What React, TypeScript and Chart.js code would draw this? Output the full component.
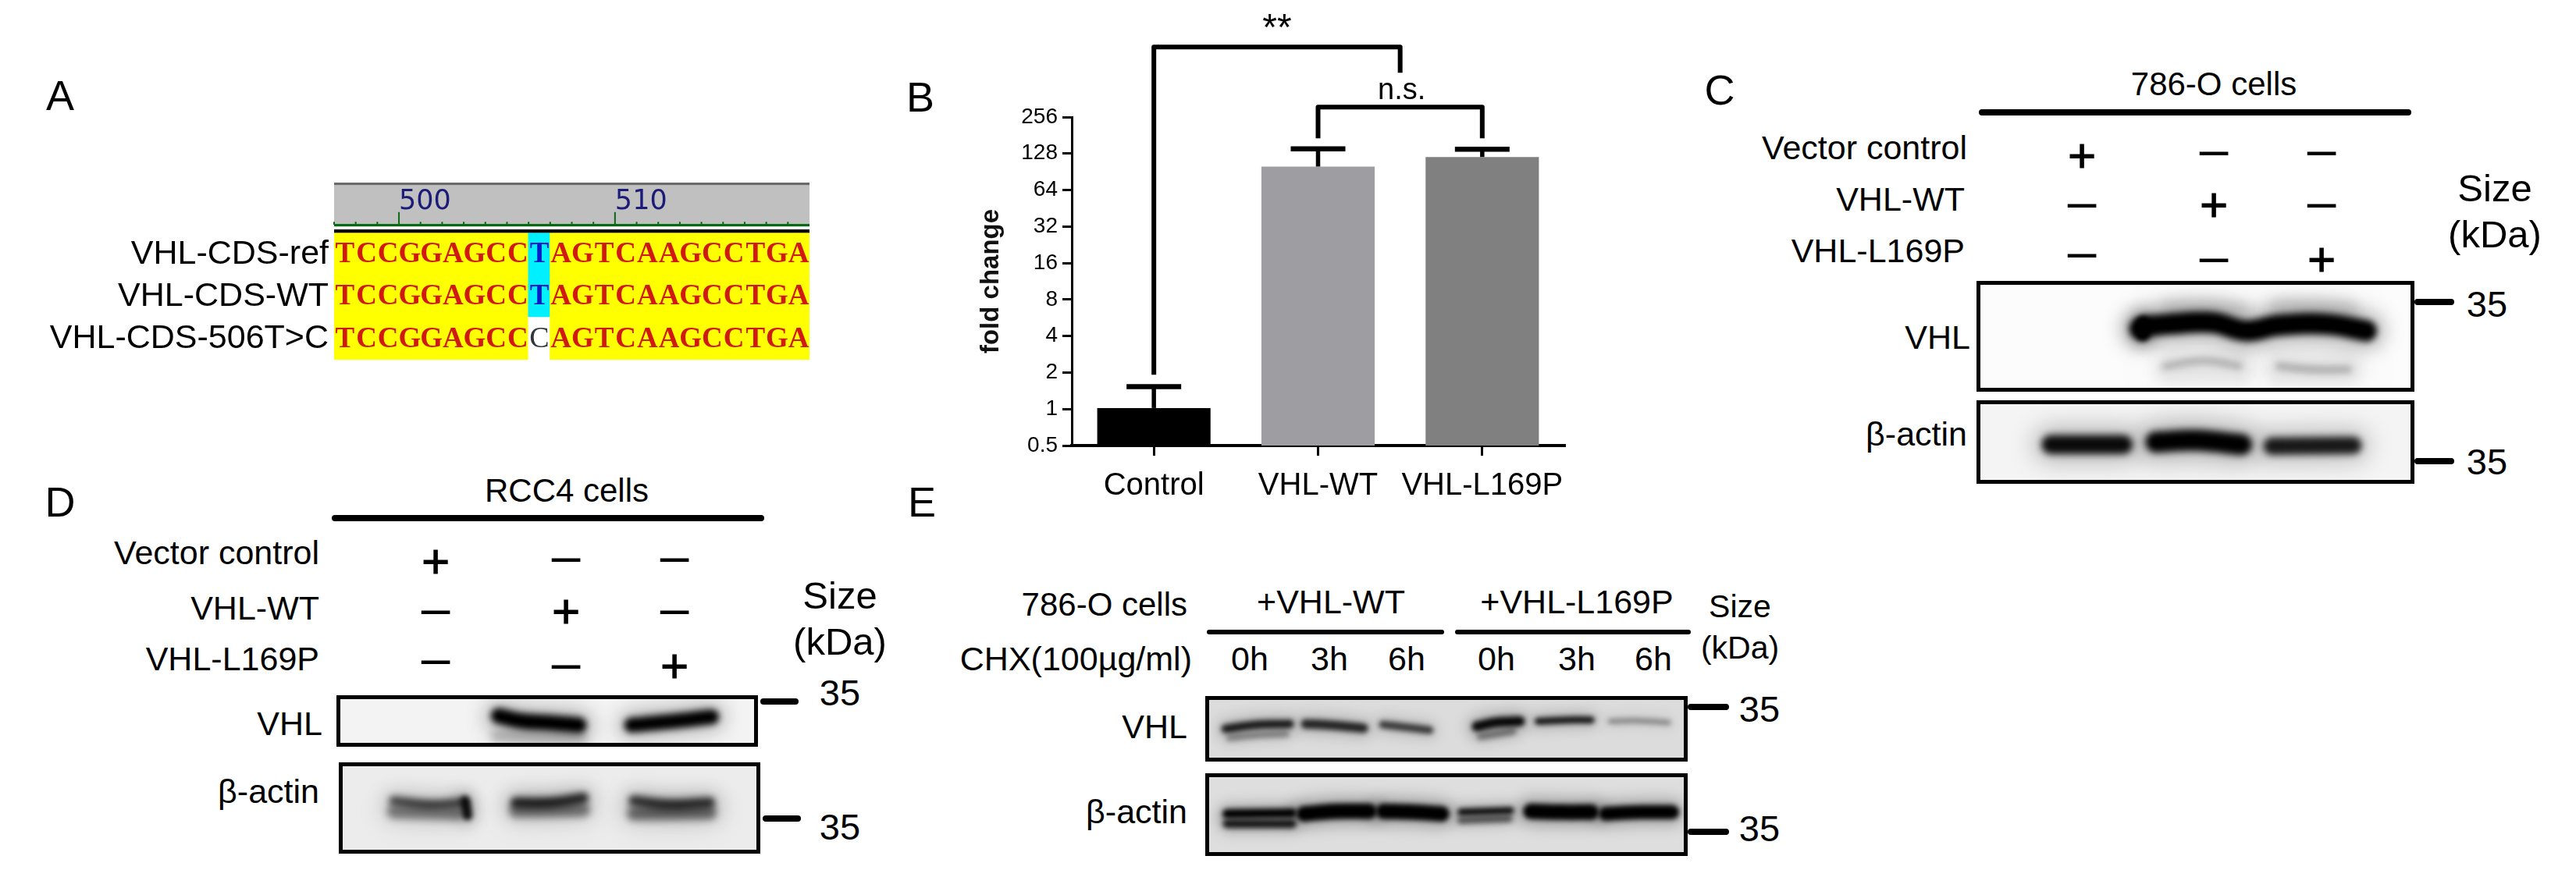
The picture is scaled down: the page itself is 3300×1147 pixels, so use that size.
import React, { useEffect, useRef } from "react";
import { Chart, registerables } from "chart.js";

Chart.register(...registerables);

// ---------- Panel B data ----------
const foldCategories = ["Control", "VHL-WT", "VHL-L169P"];
const foldMeans = [1.02, 100, 120];
const foldUpperError = [1.53, 140, 139];
const foldTicks = [0.5, 1, 2, 4, 8, 16, 32, 64, 128, 256];
const foldColours = ["#000000", "#9e9ea2", "#808080"];
const sigOuter = { from: 0, to: 1.5, level: 968, footFrom: 1.92, footTo: 594, text: "**" };
const sigInner = { from: 1, to: 2, level: 309, footFrom: 171, footTo: 171, text: "n.s." };

// ---------- Panel A data ----------
const seqPositions = Array.from("0123456789012345678901").map((_, i) => 497 + i);
const seqRef = "TCCGGAGCCTAGTCAAGCCTGA";
const seqWT = "TCCGGAGCCTAGTCAAGCCTGA";
const seqMut = "TCCGGAGCCCAGTCAAGCCTGA";
const seqNames = ["VHL-CDS-ref", "VHL-CDS-WT", "VHL-CDS-506T>C"];
const rulerLabels = [500, 510];

// ---------- Blot bands: [lane position %, height %] ----------
const cVhlMain = [[37.3, 43], [39, 41], [44, 39], [54, 37.6], [61.4, 45], [69, 40], [80, 39], [89, 45]];
const cVhlBlob = [[38, 38], [38, 48]];
const cVhlLow1 = [[43, 77], [52, 72], [60, 77]];
const cVhlLow2 = [[69, 77], [77, 80], [85, 80]];
const cVhlHaze1 = [[44, 80], [60, 80]];
const cVhlHaze2 = [[69, 80], [85, 80]];
const cVhlHaze3 = [[44, 26], [60, 26]];
const cVhlHaze4 = [[69, 24], [85, 26]];
const cActin1 = [[17, 53], [33.5, 53]];
const cActin2 = [[41, 50], [50, 48], [60.5, 53]];
const cActin3 = [[67.5, 55], [86, 54]];

const dVhl2 = [[38.5, 40], [44, 50], [50, 53], [57.5, 58]];
const dVhl3 = [[70, 58], [78, 52], [89, 42]];
const dVhlSmear = [[38, 80], [58, 82]];
const dActin1 = [[13, 42], [22, 46], [29, 44]];
const dActin1Spot = [[30, 42], [30.5, 58]];
const dActin2 = [[42, 44], [50, 44], [58, 39]];
const dActin3 = [[70, 42], [78, 46], [88, 44]];
const dSmear1 = [[13, 54], [28, 56]];
const dSmear2 = [[42, 53], [58, 52]];
const dSmear3 = [[70, 56], [88, 55]];

const eVhl1Up = [[4.2, 50], [10.5, 44], [17.5, 42.5]];
const eVhl1Low = [[5, 64], [10.5, 60], [16.8, 58]];
const eVhl2 = [[20.8, 42.5], [25.3, 44], [32.8, 49]];
const eVhl3 = [[36.8, 43.6], [41.5, 47.6], [46.5, 52]];
const eVhl4Up = [[56.3, 46.4], [60.1, 40.5], [65.2, 38.5]];
const eVhl4Low = [[57, 62], [63.8, 54]];
const eVhl5 = [[69, 38.5], [75, 36.5], [80, 36.5]];
const eVhl6 = [[84, 38.5], [89.9, 37.7], [96, 40.5]];
const eActin1Up = [[4.5, 49], [18, 48]];
const eActin1Low = [[4.5, 61], [18, 61]];
const eActin2 = [[20.5, 49], [27, 46], [34, 46]];
const eActin3 = [[37, 46], [43, 47], [49, 49]];
const eActin4Up = [[53, 47], [63.3, 45]];
const eActin4Low = [[53, 57], [63, 55]];
const eActin5 = [[67.5, 46], [74, 47], [80, 47]];
const eActin6 = [[83, 49], [90, 47], [96.8, 47]];

// ---------- Styling and layout ----------
const SANS = '"Liberation Sans", Arial, sans-serif';

type Pts = number[][];
const band = (pts: Pts, w: number, a: number, blur: number) => [
  { pts, w: w * 1.8, a: a * 0.28, blur: blur * 3 },
  { pts, w, a, blur },
];

const blotPlugin = {
  id: "blot",
  beforeDatasetDraw(chart: any, args: any) {
    const ds = chart.data.datasets[args.index];
    chart.ctx.save();
    chart.ctx.filter = `blur(${ds.blurPx}px)`;
  },
  afterDatasetDraw(chart: any) {
    chart.ctx.restore();
  },
};

function blotConfig(bg: string, edge: string, borderW: number, bands: any[]) {
  return {
    type: "line",
    data: {
      datasets: bands.flat().map((b: any) => ({
        data: b.pts.map(([x, y]: number[]) => ({ x, y })),
        borderColor: `rgba(0,0,0,${b.a})`,
        borderWidth: b.w,
        borderCapStyle: "round",
        tension: 0.4,
        pointRadius: 0,
        fill: false,
        blurPx: b.blur,
      })),
    },
    options: {
      responsive: false,
      animation: false,
      devicePixelRatio: 1,
      layout: { padding: 0 },
      plugins: { legend: { display: false }, tooltip: { enabled: false } },
      scales: {
        x: { type: "linear", min: 0, max: 100, display: false },
        y: { type: "linear", min: 0, max: 100, reverse: true, display: false },
      },
    },
    plugins: [
      {
        id: "blotBg",
        beforeDraw(chart: any) {
          const { ctx, width, height } = chart;
          ctx.save();
          ctx.fillStyle = edge;
          ctx.fillRect(0, 0, width, height);
          ctx.fillStyle = bg;
          ctx.fillRect(borderW, borderW, width - 2 * borderW, height - 2 * borderW);
          ctx.restore();
        },
        afterDraw(chart: any) {
          const { ctx, width, height } = chart;
          ctx.save();
          ctx.strokeStyle = "#000";
          ctx.lineWidth = borderW;
          ctx.strokeRect(borderW / 2, borderW / 2, width - borderW, height - borderW);
          ctx.restore();
        },
      },
      blotPlugin,
    ],
  };
}

function foldConfig() {
  return {
    type: "bar",
    data: {
      labels: foldCategories,
      datasets: [
        {
          data: foldMeans,
          backgroundColor: foldColours,
          barPercentage: 0.69,
          categoryPercentage: 1,
        },
      ],
    },
    options: {
      responsive: false,
      animation: false,
      devicePixelRatio: 1,
      layout: { padding: { top: 150, right: 46 } },
      plugins: { legend: { display: false }, tooltip: { enabled: false } },
      scales: {
        x: {
          type: "category",
          afterFit: (s: any) => { s.height = 89; },
          border: { color: "#000", width: 4 },
          grid: { offset: false, drawOnChartArea: false, color: "#000", lineWidth: 3, tickLength: 13 },
          ticks: { color: "#000", padding: 15, maxRotation: 0, minRotation: 0, autoSkip: false, font: { family: SANS, size: 40 } },
        },
        y: {
          type: "logarithmic",
          min: 0.5,
          max: 256,
          afterFit: (s: any) => { s.width = 223; },
          afterBuildTicks: (s: any) => { s.ticks = foldTicks.map((value) => ({ value })); },
          border: { color: "#000", width: 3 },
          grid: { drawOnChartArea: false, color: "#000", lineWidth: 3, tickLength: 12 },
          title: {
            display: true,
            text: "fold change",
            color: "#111",
            font: { family: SANS, size: 33, weight: "bold" },
            padding: { top: 100, bottom: 0 },
          },
          ticks: {
            color: "#000",
            padding: 6,
            font: { family: SANS, size: 28 },
            autoSkip: false,
            callback: (v: number) => String(v),
          },
        },
      },
    },
    plugins: [
      {
        id: "errorsAndBrackets",
        afterDatasetsDraw(chart: any) {
          const { ctx, scales } = chart;
          const { x, y } = scales;
          ctx.save();
          ctx.strokeStyle = "#000";
          foldMeans.forEach((m, i) => {
            const px = x.getPixelForValue(i);
            ctx.lineWidth = 5.5;
            ctx.beginPath();
            ctx.moveTo(px, y.getPixelForValue(m));
            ctx.lineTo(px, y.getPixelForValue(foldUpperError[i]));
            ctx.stroke();
            ctx.lineWidth = 6.5;
            ctx.beginPath();
            ctx.moveTo(px - 35, y.getPixelForValue(foldUpperError[i]));
            ctx.lineTo(px + 35, y.getPixelForValue(foldUpperError[i]));
            ctx.stroke();
          });
          ctx.lineWidth = 6;
          ctx.lineJoin = "round";
          ctx.fillStyle = "#000";
          ctx.textAlign = "center";
          ctx.textBaseline = "middle";
          [sigOuter, sigInner].forEach((b) => {
            const x0 = x.getPixelForValue(b.from);
            const x1 = x.getPixelForValue(b.to);
            const top = y.getPixelForValue(b.level);
            ctx.beginPath();
            ctx.moveTo(x0, y.getPixelForValue(b.footFrom));
            ctx.lineTo(x0, top);
            ctx.lineTo(x1, top);
            ctx.lineTo(x1, y.getPixelForValue(b.footTo));
            ctx.stroke();
            ctx.font = `${b === sigOuter ? 48 : 38}px ${SANS}`;
            ctx.fillText(b.text, (x0 + x1) / 2 + (b === sigOuter ? 0 : 2), top + (b === sigOuter ? -22 : -21));
          });
          ctx.restore();
        },
      },
    ],
  };
}

const rows2 = [seqMut, seqWT, seqRef];

function seqConfig() {
  const cellColour = (s: string) =>
    Array.from(s).map((c, i) => {
      if (c !== seqRef[i]) return "#ffffff";
      return i === 9 ? "#00f0ff" : "#ffff00";
    });
  return {
    type: "bar",
    data: {
      labels: seqPositions.map(String),
      datasets: rows2.map((s, r) => ({
        data: Array.from(s).map(() => [r, r + 1]),
        backgroundColor: cellColour(s),
        barPercentage: 1,
        categoryPercentage: 1,
        grouped: false,
        inflateAmount: 0.6,
      })),
    },
    options: {
      responsive: false,
      animation: false,
      devicePixelRatio: 1,
      layout: { padding: { top: 0, right: 63, bottom: 0 } },
      plugins: { legend: { display: false }, tooltip: { enabled: false } },
      scales: {
        x: { type: "category", display: false },
        y: {
          type: "linear",
          min: 0,
          max: 4.2,
          afterFit: (s: any) => {
            s.width = 428;
            s.paddingTop = 0;
            s.paddingBottom = 0;
          },
          afterBuildTicks: (s: any) => { s.ticks = [0.5, 1.5, 2.5].map((value) => ({ value })); },
          border: { display: false },
          grid: { display: false, drawTicks: false },
          ticks: {
            color: "#000",
            padding: 7,
            font: { family: SANS, size: 43 },
            autoSkip: false,
            callback: (v: number) => seqNames[2 - Math.floor(v)],
          },
        },
      },
    },
    plugins: [
      {
        id: "seqLetters",
        afterDatasetsDraw(chart: any) {
          const { ctx, scales, chartArea } = chart;
          const { x, y } = scales;
          const step = x.getPixelForValue(1) - x.getPixelForValue(0);
          const W = chartArea.right - chartArea.left;
          ctx.save();
          // ruler
          ctx.fillStyle = "#c0c0c0";
          ctx.fillRect(chartArea.left, y.getPixelForValue(4.14), W, y.getPixelForValue(3.2) - y.getPixelForValue(4.14));
          ctx.fillStyle = "#6a6a6a";
          ctx.fillRect(chartArea.left, y.getPixelForValue(4.2), W, y.getPixelForValue(4.14) - y.getPixelForValue(4.2));
          ctx.fillStyle = "#000";
          ctx.fillRect(chartArea.left, y.getPixelForValue(3.09), W, y.getPixelForValue(3.01) - y.getPixelForValue(3.09));
          ctx.fillStyle = "#0a6a14";
          ctx.fillRect(chartArea.left, y.getPixelForValue(3.22), W, y.getPixelForValue(3.16) - y.getPixelForValue(3.22));
          seqPositions.forEach((p, i) => {
            const edge = x.getPixelForValue(i) - step / 2;
            const major = rulerLabels.includes(p);
            const tip = y.getPixelForValue(major ? 3.5 : 3.27);
            ctx.fillRect(edge - 1, tip, 2, y.getPixelForValue(3.2) - tip);
            if (major) {
              ctx.save();
              ctx.fillStyle = "#1c1c78";
              ctx.font = `35px "DejaVu Sans", sans-serif`;
              ctx.textAlign = "left";
              ctx.textBaseline = "middle";
              ctx.fillText(String(p), edge, y.getPixelForValue(3.74));
              ctx.restore();
            }
          });
          // letters
          ctx.textAlign = "center";
          ctx.textBaseline = "middle";
          rows2.forEach((s, r) => {
            Array.from(s).forEach((c, i) => {
              const blue = i === 9 && c === "T";
              const plain = i === 9 && c !== "T";
              ctx.fillStyle = blue ? "#0a1ac8" : plain ? "#30363c" : "#d01a10";
              ctx.font = plain ? `38px "Liberation Serif", serif` : `bold 37px "Liberation Serif", serif`;
              ctx.fillText(c, x.getPixelForValue(i), y.getPixelForValue(r + 0.5) + 1);
            });
          });
          ctx.restore();
        },
      },
    ],
  };
}

const charts = [
  { key: "A", box: [0, 234, 1100, 227], make: seqConfig },
  { key: "B", box: [1150, 0, 900, 660], make: foldConfig },
  {
    key: "C1", box: [2532, 360, 561, 142],
    make: () => blotConfig("#fcfcfc", "#000", 5, [
      band(cVhlHaze1, 40, 0.06, 8),
      band(cVhlHaze2, 40, 0.06, 8),
      band(cVhlHaze3, 24, 0.12, 8),
      band(cVhlHaze4, 24, 0.12, 8),
      band(cVhlMain, 27, 1, 4),
      band(cVhlBlob, 18, 1, 3),
      band(cVhlLow1, 9, 0.22, 4),
      band(cVhlLow2, 9, 0.24, 4),
    ]),
  },
  {
    key: "C2", box: [2532, 513, 561, 107],
    make: () => blotConfig("#f4f4f4", "#000", 5, [
      band(cActin1, 24, 0.95, 5),
      band(cActin2, 27, 1, 5),
      band(cActin3, 22, 0.88, 5),
    ]),
  },
  {
    key: "D1", box: [431, 891, 540, 66],
    make: () => blotConfig("#f3f3f3", "#000", 5, [
      band(dVhlSmear, 16, 0.18, 5),
      band(dVhl2, 20, 1, 4),
      band(dVhl3, 19, 1, 4),
    ]),
  },
  {
    key: "D2", box: [434, 977, 540, 117],
    make: () => blotConfig("#ececec", "#000", 5, [
      band(dActin1, 12, 0.65, 4),
      band(dActin1Spot, 13, 0.9, 3),
      band(dActin2, 14, 0.8, 4),
      band(dActin3, 14, 0.75, 4),
      band(dSmear1, 18, 0.42, 5),
      band(dSmear2, 18, 0.45, 5),
      band(dSmear3, 18, 0.5, 5),
    ]),
  },
  {
    key: "E1", box: [1544, 892, 618, 84],
    make: () => blotConfig("#dcdcdc", "#000", 5, [
      band(eVhl1Up, 11, 0.85, 3),
      band(eVhl1Low, 8, 0.35, 3),
      band(eVhl2, 12, 0.8, 3),
      band(eVhl3, 10, 0.7, 3),
      band(eVhl4Up, 13, 0.95, 3),
      band(eVhl4Low, 9, 0.4, 3),
      band(eVhl5, 9, 0.9, 3),
      band(eVhl6, 7, 0.35, 3),
    ]),
  },
  {
    key: "E2", box: [1544, 991, 618, 106],
    make: () => blotConfig("#dedede", "#000", 5, [
      band(eActin1Up, 12, 1, 3),
      band(eActin1Low, 11, 0.85, 3),
      band(eActin2, 20, 1, 3),
      band(eActin3, 20, 1, 3),
      band(eActin4Up, 9, 0.95, 3),
      band(eActin4Low, 9, 0.55, 3),
      band(eActin5, 20, 1, 3),
      band(eActin6, 18, 1, 3),
    ]),
  },
];

// text: [string, x, y, size, anchor]
const texts: [string, number, number, number, string][] = [
  ["A", 77, 122, 54, "c"], ["B", 1179, 124, 54, "c"], ["C", 2203, 115, 54, "c"], ["D", 77, 643, 54, "c"], ["E", 1181, 643, 54, "c"],
  // C
  ["786-O cells", 2836, 108, 42, "c"],
  ["Vector control", 2520, 189, 43, "r"], ["VHL-WT", 2517, 255, 43, "r"], ["VHL-L169P", 2517, 321, 43, "r"],
  ["VHL", 2524, 432, 43, "r"], ["β-actin", 2520, 556, 43, "r"],
  ["Size", 3196, 241, 49, "c"], ["(kDa)", 3196, 300, 49, "c"],
  ["35", 3186, 389, 47, "c"], ["35", 3186, 591, 47, "c"],
  // D
  ["RCC4 cells", 726, 629, 42, "c"],
  ["Vector control", 409, 708, 43, "r"], ["VHL-WT", 409, 779, 43, "r"], ["VHL-L169P", 409, 844, 43, "r"],
  ["VHL", 413, 927, 43, "r"], ["β-actin", 409, 1014, 43, "r"],
  ["Size", 1076, 763, 49, "c"], ["(kDa)", 1076, 822, 49, "c"],
  ["35", 1076, 887, 47, "c"], ["35", 1076, 1059, 47, "c"],
  // E
  ["786-O cells", 1521, 775, 42, "r"], ["+VHL-WT", 1705, 771, 43, "c"], ["+VHL-L169P", 2020, 771, 43, "c"],
  ["CHX(100µg/ml)", 1527, 844, 43, "r"],
  ["0h", 1601, 844, 43, "c"], ["3h", 1703, 844, 43, "c"], ["6h", 1802, 844, 43, "c"],
  ["0h", 1917, 844, 43, "c"], ["3h", 2020, 844, 43, "c"], ["6h", 2118, 844, 43, "c"],
  ["Size", 2229, 777, 41, "c"], ["(kDa)", 2229, 830, 41, "c"],
  ["VHL", 1521, 931, 43, "r"], ["β-actin", 1521, 1040, 43, "r"],
  ["35", 2254, 908, 47, "c"], ["35", 2254, 1061, 47, "c"],
];

// sign grids: [sign, x, y]
const signs: [string, number, number][] = [
  ["+", 2667, 199], ["–", 2836, 195], ["–", 2974, 195],
  ["–", 2667, 262], ["+", 2836, 262], ["–", 2974, 262],
  ["–", 2667, 326], ["–", 2836, 332], ["+", 2974, 332],
  ["+", 558, 719], ["–", 725, 716], ["–", 864, 716],
  ["–", 558, 783], ["+", 725, 783], ["–", 864, 783],
  ["–", 558, 847], ["–", 725, 853], ["+", 864, 853],
];

// rules: [x0, x1, y, thickness]
const rules: [number, number, number, number][] = [
  [2535, 3089, 144, 8], [425, 979, 664, 8], [1546, 1850, 810, 6], [1864, 2166, 810, 6],
  [3093, 3144, 387, 8], [3093, 3144, 591, 8],
  [974, 1023, 899, 8], [977, 1026, 1049, 8],
  [2162, 2215, 906, 8], [2162, 2215, 1066, 8],
];

function ChartBox({ box, make }: { box: number[]; make: () => any }) {
  const ref = useRef<HTMLCanvasElement>(null);
  useEffect(() => {
    const chart = new Chart(ref.current as any, make());
    return () => chart.destroy();
  }, []);
  return (
    <canvas
      ref={ref}
      width={box[2]}
      height={box[3]}
      style={{ position: "absolute", left: box[0], top: box[1], width: box[2], height: box[3] }}
    />
  );
}

export default function App() {
  return (
    <div style={{ position: "absolute", left: 0, top: 0, width: 3300, height: 1147, background: "#fff", overflow: "hidden", fontFamily: SANS, color: "#000" }}>
      {charts.map((c) => (
        <ChartBox key={c.key} box={c.box} make={c.make} />
      ))}
      {rules.map((r, i) => (
        <div key={i} style={{ position: "absolute", left: r[0], top: r[2] - r[3] / 2, width: r[1] - r[0], height: r[3], background: "#000", borderRadius: r[3] / 2 }} />
      ))}
      {texts.map((t, i) => (
        <div key={i} style={{ position: "absolute", left: t[1], top: t[2], fontSize: t[3], lineHeight: 1, whiteSpace: "nowrap", transform: t[4] === "r" ? "translate(-100%,-50%)" : "translate(-50%,-50%)" }}>
          {t[0]}
        </div>
      ))}
      {signs.map((s, i) => (
        <div key={i} style={{ position: "absolute", left: s[1], top: s[2] + (s[0] === "+" ? 0 : -4), fontSize: s[0] === "+" ? 62 : 66, fontWeight: 400, WebkitTextStroke: s[0] === "+" ? "1px #000" : undefined, lineHeight: 1, transform: "translate(-50%,-50%)" }}>
          {s[0]}
        </div>
      ))}
    </div>
  );
}
